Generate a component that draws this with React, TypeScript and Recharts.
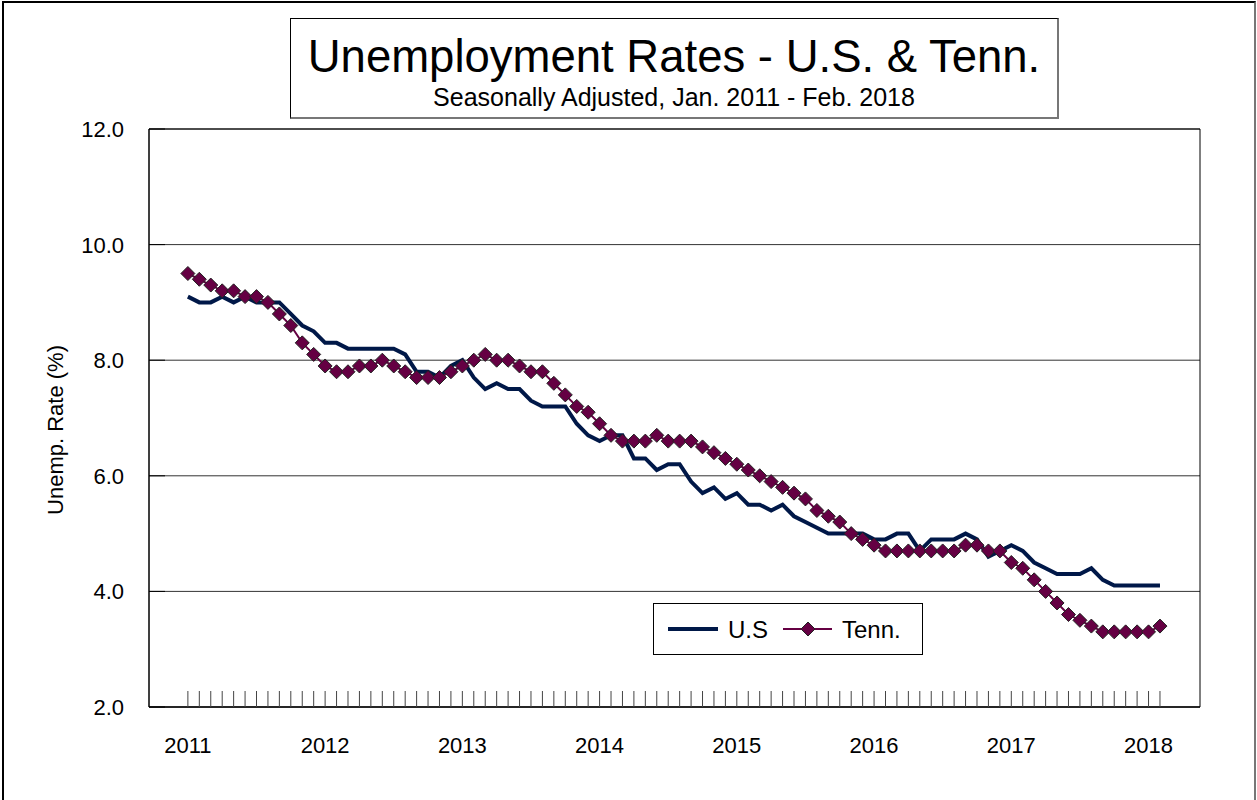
import React from "react";
import { CartesianGrid, Line, LineChart, ReferenceArea, XAxis, YAxis } from "recharts";

const FONT = '"Liberation Sans", Arial, Helvetica, sans-serif';

// monthly, Jan 2011 .. Feb 2018
const usRate = [
  9.1, 9.0, 9.0, 9.1, 9.0, 9.1, 9.0, 9.0, 9.0, 8.8, 8.6, 8.5,
  8.3, 8.3, 8.2, 8.2, 8.2, 8.2, 8.2, 8.1, 7.8, 7.8, 7.7, 7.9,
  8.0, 7.7, 7.5, 7.6, 7.5, 7.5, 7.3, 7.2, 7.2, 7.2, 6.9, 6.7,
  6.6, 6.7, 6.7, 6.3, 6.3, 6.1, 6.2, 6.2, 5.9, 5.7, 5.8, 5.6,
  5.7, 5.5, 5.5, 5.4, 5.5, 5.3, 5.2, 5.1, 5.0, 5.0, 5.0, 5.0,
  4.9, 4.9, 5.0, 5.0, 4.7, 4.9, 4.9, 4.9, 5.0, 4.9, 4.6, 4.7,
  4.8, 4.7, 4.5, 4.4, 4.3, 4.3, 4.3, 4.4, 4.2, 4.1, 4.1, 4.1,
  4.1, 4.1
];

const tnRate = [
  9.5, 9.4, 9.3, 9.2, 9.2, 9.1, 9.1, 9.0, 8.8, 8.6, 8.3, 8.1,
  7.9, 7.8, 7.8, 7.9, 7.9, 8.0, 7.9, 7.8, 7.7, 7.7, 7.7, 7.8,
  7.9, 8.0, 8.1, 8.0, 8.0, 7.9, 7.8, 7.8, 7.6, 7.4, 7.2, 7.1,
  6.9, 6.7, 6.6, 6.6, 6.6, 6.7, 6.6, 6.6, 6.6, 6.5, 6.4, 6.3,
  6.2, 6.1, 6.0, 5.9, 5.8, 5.7, 5.6, 5.4, 5.3, 5.2, 5.0, 4.9,
  4.8, 4.7, 4.7, 4.7, 4.7, 4.7, 4.7, 4.7, 4.8, 4.8, 4.7, 4.7,
  4.5, 4.4, 4.2, 4.0, 3.8, 3.6, 3.5, 3.4, 3.3, 3.3, 3.3, 3.3,
  3.3, 3.4
];

const yearLabels = ["2011", "2012", "2013", "2014", "2015", "2016", "2017", "2018"];
const yTicks = [2, 4, 6, 8, 10, 12];

const data = usRate.map((us, i) => ({ i, us, tn: tnRate[i] }));
const monthTicks = data.map((d) => d.i);
const xDomain: [number, number] = [-3.4, 88.5];

const US_COLOR = "#001848";
const TN_COLOR = "#650043";

function XTick(props: any) {
  const { x, y, payload } = props;
  const i = payload.value;
  const label = i % 12 === 0 ? yearLabels[i / 12] : null;
  return (
    <g>
      <line x1={x} x2={x} y1={y} y2={y - 16} stroke="#444" strokeWidth={1} />
      {label && (
        <text x={x} y={y + 46} textAnchor="middle" fontSize={22} fill="#000">
          {label}
        </text>
      )}
    </g>
  );
}

function YTick(props: any) {
  const { x, y, payload } = props;
  return (
    <g>
      <line x1={x} x2={x + 16} y1={y} y2={y} stroke="#000" strokeWidth={1} />
      <text x={x - 25} y={y} dy="0.36em" textAnchor="end" fontSize={22} fill="#000">
        {payload.value.toFixed(1)}
      </text>
    </g>
  );
}

function Diamond(props: any) {
  const { cx, cy, index } = props;
  if (cx == null || cy == null) return <g key={index} />;
  const r = 7;
  return (
    <path
      key={index}
      d={`M${cx},${cy - r}L${cx + r},${cy}L${cx},${cy + r}L${cx - r},${cy}Z`}
      fill={TN_COLOR}
      stroke="#222"
      strokeWidth={1}
    />
  );
}

function yLabel() {
  return (
    <text
      x={55}
      y={430}
      transform="rotate(-90 55 430)"
      textAnchor="middle"
      dy="0.36em"
      fontSize={22}
      fill="#000"
    >
      Unemp. Rate (%)
    </text>
  );
}

export default function App() {
  return (
    <div
      style={{
        position: "absolute",
        left: 0,
        top: 0,
        width: 1257,
        height: 800,
        overflow: "hidden",
        background: "#fff",
        fontFamily: FONT
      }}
    >
      <div
        style={{
          position: "absolute",
          left: 2,
          top: 1,
          width: 1250,
          height: 840,
          borderLeft: "2px solid #000",
          borderTop: "2px solid #000",
          borderRight: "2px solid #777"
        }}
      />
      <div
        style={{
          position: "absolute",
          left: 290,
          top: 18,
          width: 766,
          height: 98,
          border: "1px solid #000",
          borderRight: "2px solid #777",
          borderBottom: "2px solid #777",
          textAlign: "center",
          background: "#fff"
        }}
      >
        <div style={{ position: "absolute", left: 0, right: 0, top: 15, fontSize: 45.5, lineHeight: 1 }}>
          Unemployment Rates - U.S. &amp; Tenn.
        </div>
        <div style={{ position: "absolute", left: 0, right: 0, top: 66, fontSize: 25, lineHeight: 1 }}>
          Seasonally Adjusted, Jan. 2011 - Feb. 2018
        </div>
      </div>
      <div style={{ position: "absolute", left: 0, top: 0 }}>
        <LineChart
          width={1257}
          height={800}
          data={data}
          margin={{ top: 129, right: 57, bottom: 33, left: 69 }}
        >
          <CartesianGrid horizontal vertical={false} stroke="#333" />
          <XAxis
            type="number"
            dataKey="i"
            domain={xDomain}
            ticks={monthTicks}
            interval={0}
            height={60}
            tickSize={0}
            tickMargin={0}
            tickLine={false}
            tick={<XTick />}
            axisLine={{ stroke: "#000" }}
            allowDataOverflow
          />
          <YAxis
            type="number"
            domain={[2, 12]}
            ticks={yTicks}
            width={80}
            tickSize={0}
            tickMargin={0}
            tickLine={false}
            tick={<YTick />}
            axisLine={{ stroke: "#000" }}
            label={yLabel}
          />
          <ReferenceArea
            x1={xDomain[0]}
            x2={xDomain[1]}
            y1={2}
            y2={12}
            fill="none"
            stroke="#000"
            strokeWidth={1}
            fillOpacity={0}
          />
          <Line
            type="linear"
            dataKey="us"
            stroke={US_COLOR}
            strokeWidth={4}
            dot={false}
            isAnimationActive={false}
          />
          <Line
            type="linear"
            dataKey="tn"
            stroke={TN_COLOR}
            strokeWidth={2}
            dot={Diamond}
            isAnimationActive={false}
          />
        </LineChart>
      </div>
      <div
        style={{
          position: "absolute",
          left: 653,
          top: 603,
          width: 268,
          height: 50,
          border: "1px solid #000",
          background: "#fff",
          fontSize: 24
        }}
      >
        <svg width={268} height={50} style={{ position: "absolute", left: 0, top: 0 }}>
          <line x1={14} x2={64} y1={25} y2={25} stroke={US_COLOR} strokeWidth={4} />
          <text x={74} y={25} dy="0.36em" fontSize={24} fill="#000">
            U.S
          </text>
          <line x1={129} x2={178} y1={25} y2={25} stroke={TN_COLOR} strokeWidth={2} />
          <path d="M154,18L161,25L154,32L147,25Z" fill={TN_COLOR} stroke="#222" strokeWidth={1} />
          <text x={188} y={25} dy="0.36em" fontSize={24} fill="#000">
            Tenn.
          </text>
        </svg>
      </div>
    </div>
  );
}
